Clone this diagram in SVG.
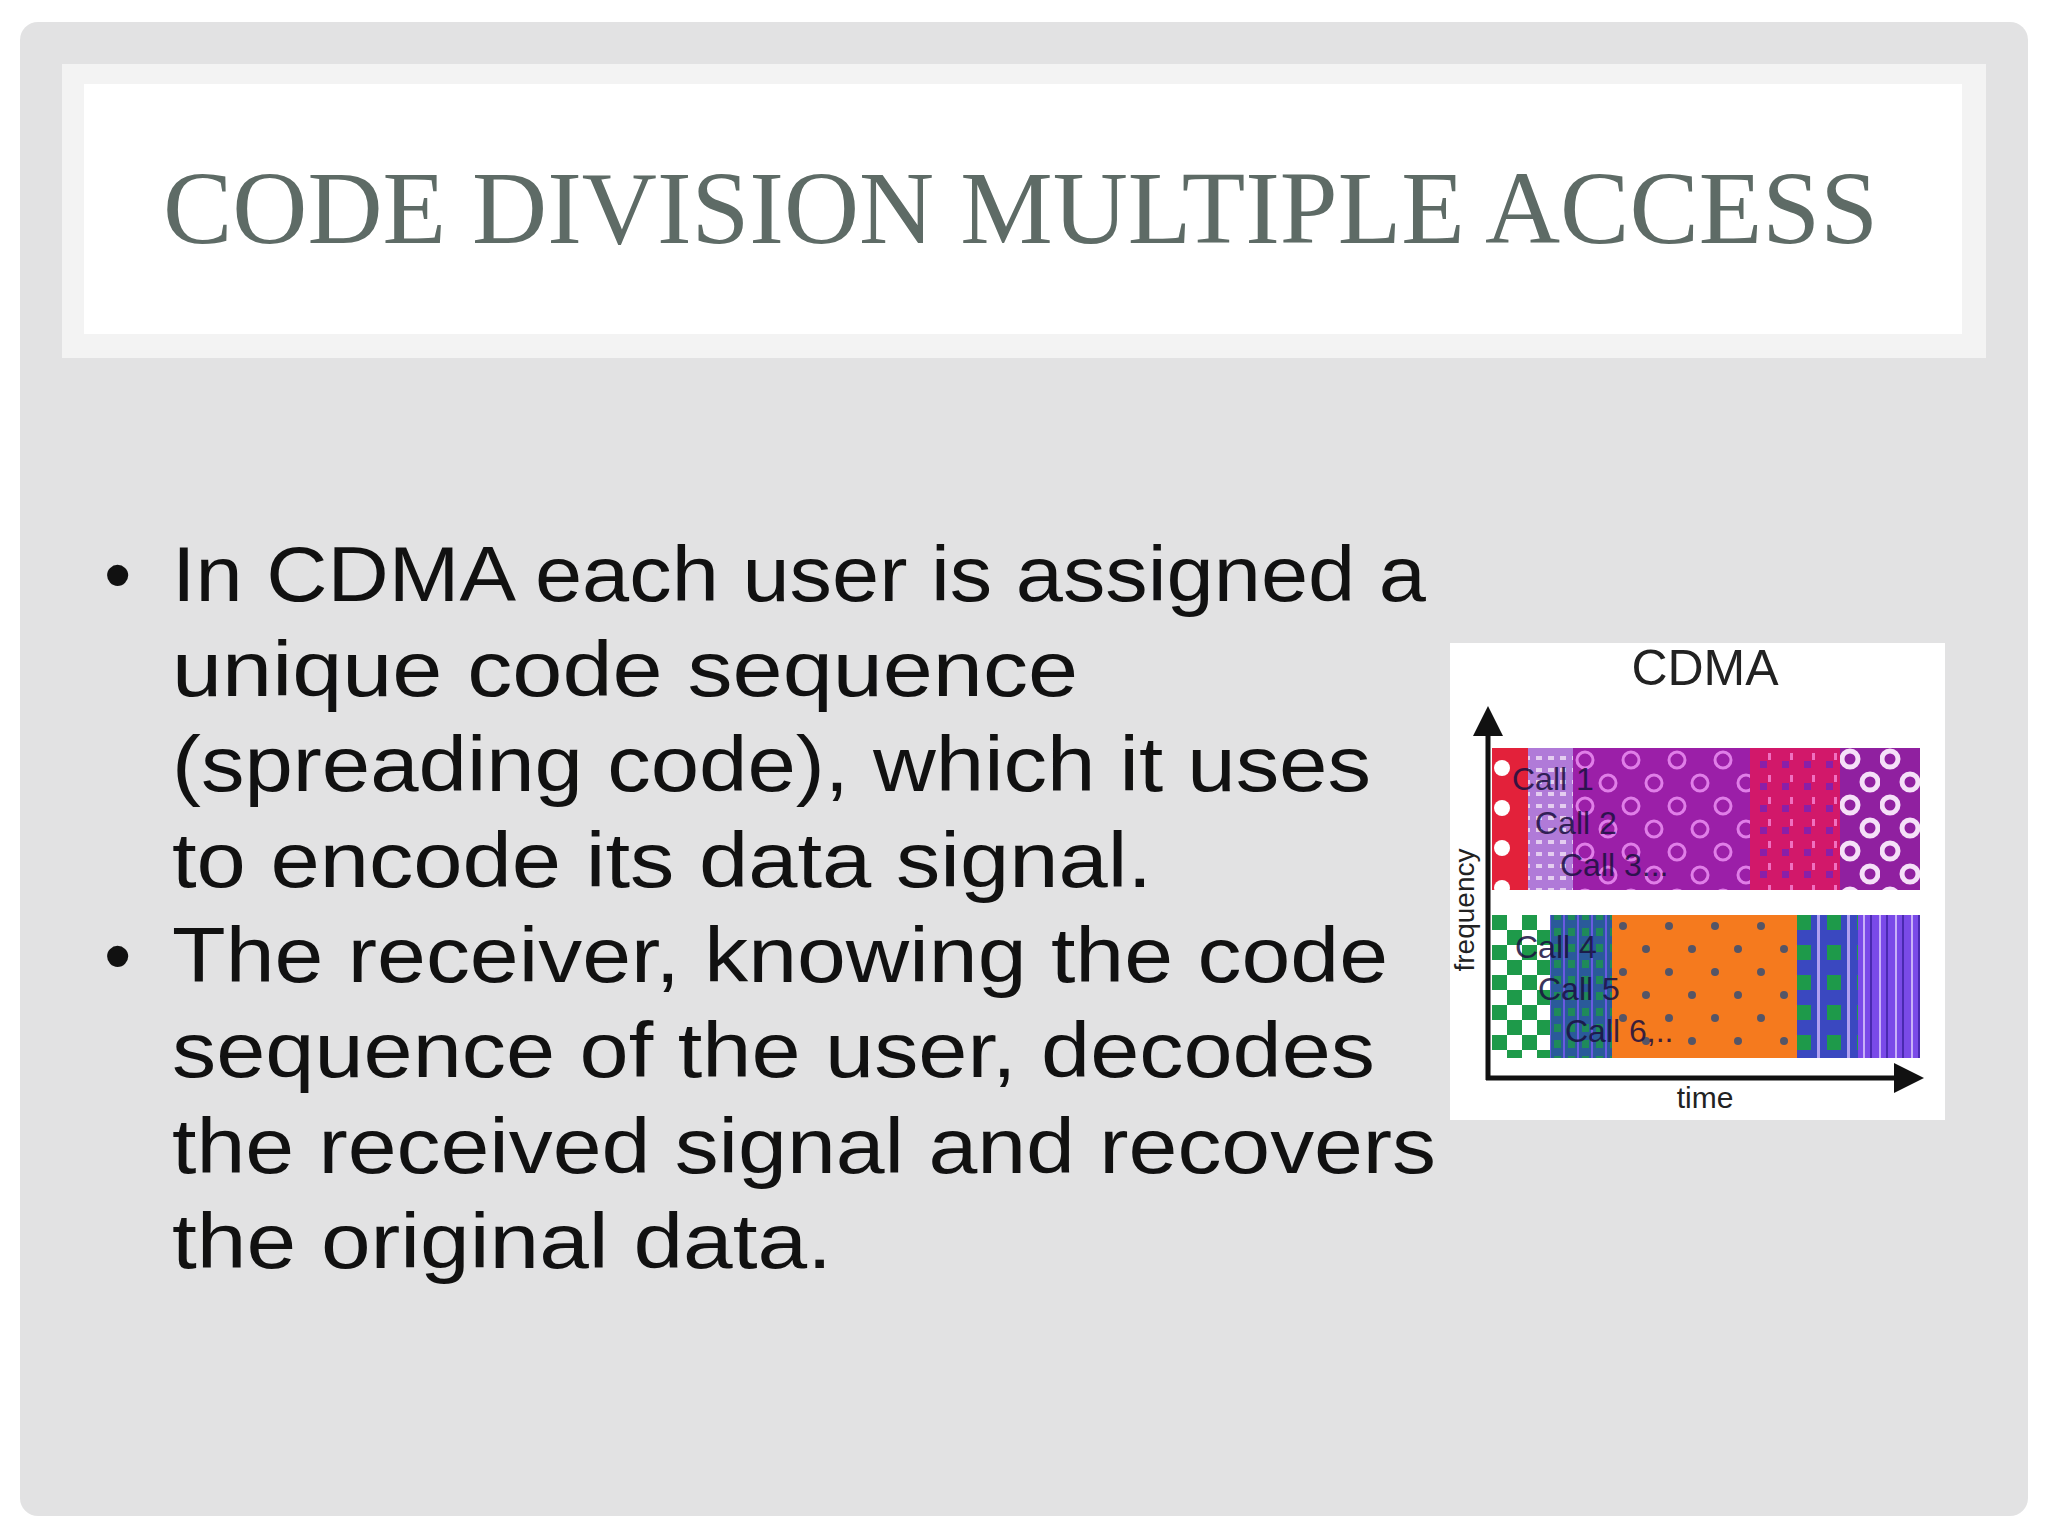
<svg xmlns="http://www.w3.org/2000/svg" width="2048" height="1536" viewBox="0 0 2048 1536">
<style>
.title{font-family:"Liberation Serif","DejaVu Serif",serif;font-size:104px;fill:#5e6b66}
.b{font-family:"Liberation Sans","DejaVu Sans",sans-serif;font-size:78px;fill:#111}
.lab{font-family:"Liberation Sans","DejaVu Sans",sans-serif;fill:#222}
.call{font-family:"Liberation Sans",sans-serif;font-size:32px;fill:#1a1040;opacity:.85}
</style>
<defs>
<pattern id="pRed" width="36" height="40" patternUnits="userSpaceOnUse" x="1492" y="748"><rect width="36" height="40" fill="#e3213a"/><circle cx="10" cy="20" r="8" fill="#fff"/></pattern>
<pattern id="pPur" width="46" height="46" patternUnits="userSpaceOnUse" x="1573" y="748"><rect width="46" height="46" fill="#9b1fa8"/><circle cx="12" cy="12" r="8" fill="none" stroke="#e07ee8" stroke-width="3"/><circle cx="35" cy="35" r="8" fill="none" stroke="#e07ee8" stroke-width="3"/></pattern>
<pattern id="pPink" width="22" height="22" patternUnits="userSpaceOnUse"><rect width="22" height="22" fill="#d2186a"/><rect x="8" y="5" width="3" height="7" fill="#f070c0"/><rect x="0" y="13" width="7" height="7" fill="#8a1fa8"/></pattern>
<pattern id="pCirc" width="40" height="46" patternUnits="userSpaceOnUse" x="1840" y="748"><rect width="40" height="46" fill="#9020a0"/><circle cx="10" cy="11" r="8" fill="none" stroke="#f5e0f8" stroke-width="5"/><circle cx="30" cy="34" r="8" fill="none" stroke="#f5e0f8" stroke-width="5"/></pattern>
<pattern id="pLight" width="12" height="12" patternUnits="userSpaceOnUse"><rect width="12" height="12" fill="#b07ad8"/><rect width="6" height="4" fill="#e4cdf0"/></pattern>
<pattern id="pChk" width="30" height="30" patternUnits="userSpaceOnUse" x="1492" y="915"><rect width="30" height="30" fill="#fff"/><rect width="15" height="15" fill="#1e9a4a"/><rect x="15" y="15" width="15" height="15" fill="#1e9a4a"/></pattern>
<pattern id="pTeal" width="14" height="16" patternUnits="userSpaceOnUse"><rect width="14" height="16" fill="#2a5a9a"/><rect width="7" height="8" fill="#1f8a5a"/><rect x="9" width="2" height="16" fill="#6a5ae0"/></pattern>
<pattern id="pOr" width="46" height="46" patternUnits="userSpaceOnUse" x="1612" y="915"><rect width="46" height="46" fill="#f57a1e"/><circle cx="11" cy="11" r="4" fill="#556"/><circle cx="34" cy="34" r="4" fill="#556"/></pattern>
<pattern id="pBG" width="30" height="30" patternUnits="userSpaceOnUse" x="1797" y="915"><rect width="30" height="30" fill="#3a48c0"/><rect width="14" height="15" fill="#1e9a4a"/><rect x="20" width="3" height="30" fill="#b0a0f0"/></pattern>
<pattern id="pStr" width="16" height="10" patternUnits="userSpaceOnUse" x="1858"><rect width="16" height="10" fill="#7a4ae8"/><rect x="5" width="2" height="10" fill="#c8b0f8"/><rect x="12" width="2" height="10" fill="#4a2ab0"/></pattern>
<marker id="ah" viewBox="0 0 10 10" refX="8" refY="5" markerWidth="6" markerHeight="6" orient="auto"><path d="M0,0 L10,5 L0,10 z" fill="#111"/></marker>
</defs>
<rect width="2048" height="1536" fill="#fff"/>
<rect x="20" y="22" width="2008" height="1494" rx="18" fill="#e2e2e3"/>
<g id="title">
<rect x="62" y="64" width="1924" height="294" fill="#f3f3f3"/>
<rect x="84" y="84" width="1878" height="250" fill="#fff"/>
<text class="title" x="163" y="243" textLength="1715" lengthAdjust="spacingAndGlyphs">CODE DIVISION MULTIPLE ACCESS</text>
</g>
<g id="bullets">
<text class="b" x="104" y="601">•</text>
<text class="b" x="104" y="982">•</text>
<text class="b" x="172" y="601" textLength="1254" lengthAdjust="spacingAndGlyphs">In CDMA each user is assigned a</text>
<text class="b" x="172" y="696" textLength="906" lengthAdjust="spacingAndGlyphs">unique code sequence</text>
<text class="b" x="172" y="791" textLength="1199" lengthAdjust="spacingAndGlyphs">(spreading code), which it uses</text>
<text class="b" x="172" y="887" textLength="980" lengthAdjust="spacingAndGlyphs">to encode its data signal.</text>
<text class="b" x="172" y="982" textLength="1216" lengthAdjust="spacingAndGlyphs">The receiver, knowing the code</text>
<text class="b" x="172" y="1077" textLength="1203" lengthAdjust="spacingAndGlyphs">sequence of the user, decodes</text>
<text class="b" x="172" y="1173" textLength="1264" lengthAdjust="spacingAndGlyphs">the received signal and recovers</text>
<text class="b" x="172" y="1268" textLength="660" lengthAdjust="spacingAndGlyphs">the original data.</text>
</g>
<g id="cdma">
<rect x="1450" y="643" width="495" height="477" fill="#fff"/>
<text class="lab" x="1705" y="685" font-size="50" text-anchor="middle" fill="#1a1a1a">CDMA</text>
<rect x="1492" y="748" width="36" height="142" fill="url(#pRed)"/>
<rect x="1528" y="748" width="45" height="142" fill="url(#pLight)"/>
<rect x="1573" y="748" width="177" height="142" fill="url(#pPur)"/>
<rect x="1750" y="748" width="90" height="142" fill="url(#pPink)"/>
<rect x="1840" y="748" width="80" height="142" fill="url(#pCirc)"/>
<rect x="1492" y="915" width="58" height="143" fill="url(#pChk)"/>
<rect x="1550" y="915" width="62" height="143" fill="url(#pTeal)"/>
<rect x="1612" y="915" width="185" height="143" fill="url(#pOr)"/>
<rect x="1797" y="915" width="61" height="143" fill="url(#pBG)"/>
<rect x="1858" y="915" width="62" height="143" fill="url(#pStr)"/>
<text class="call" x="1512" y="790">Call 1</text>
<text class="call" x="1535" y="834">Call 2</text>
<text class="call" x="1560" y="876">Call 3...</text>
<text class="call" x="1515" y="958">Call 4</text>
<text class="call" x="1538" y="1000">Call 5</text>
<text class="call" x="1565" y="1042">Call 6,..</text>
</g>
<g id="connectors">
<line x1="1488" y1="1080" x2="1488" y2="712" stroke="#111" stroke-width="5" marker-end="url(#ah)"/>
<line x1="1486" y1="1078" x2="1918" y2="1078" stroke="#111" stroke-width="5" marker-end="url(#ah)"/>
</g>
<text class="lab" x="1705" y="1108" font-size="30" text-anchor="middle">time</text>
<text class="lab" x="1474" y="910" font-size="28" text-anchor="middle" transform="rotate(-90 1474 910)">frequency</text>
</svg>
